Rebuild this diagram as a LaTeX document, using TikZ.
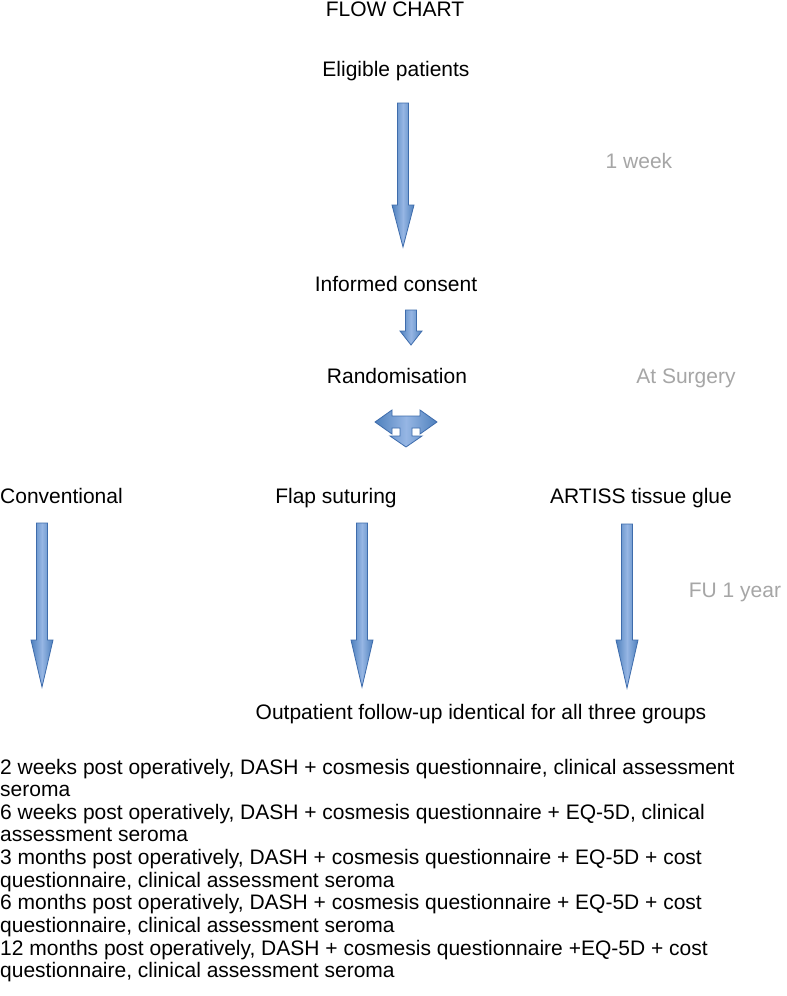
\documentclass[tikz,border=0pt]{standalone}
\usepackage{fontspec}
\setmainfont{Liberation Sans}
\definecolor{arrblue}{RGB}{79,129,189}
\definecolor{arrlight}{RGB}{150,182,228}
\definecolor{arrline}{RGB}{62,108,172}
\definecolor{graytxt}{RGB}{166,166,166}
\tikzset{
  txt/.style={anchor=base, inner sep=0pt, font=\fontsize{21}{22.7}\selectfont},
  gtxt/.style={txt, text=graytxt},
  ltxt/.style={txt, anchor=base west},
  barrow/.style={draw=arrline, line width=0.8pt, line join=miter, left color=arrblue, right color=arrblue, middle color=arrlight, shading angle=90},
}
% #1 centre x, #2 top y, #3 head base y, #4 tip y
\newcommand\blkarrow[4]{%
  \path[barrow] (#1-5.5,#2) -- (#1+5.5,#2) -- (#1+5.5,#3) -- (#1+11,#3) -- (#1,#4) -- (#1-11,#3) -- (#1-5.5,#3) -- cycle;}
\begin{document}
\begin{tikzpicture}[x=1pt,y=-1pt]
\useasboundingbox (0,0) rectangle (787,996);
\fill[white] (0,0) rectangle (787,996);

\node[txt] (title) at (395,16) {FLOW CHART};
\node[txt] (elig) at (396,76) {Eligible patients};
\node[gtxt] (week) at (639,168) {1 week};
\node[txt] (cons) at (396,291) {Informed consent};
\node[txt] (rand) at (397,383) {Randomisation};
\node[gtxt] (surg) at (686,383) {At Surgery};
\node[txt, anchor=base west] (conv) at (0,503) {Conventional};
\node[txt] (flap) at (336,503) {Flap suturing};
\node[txt] (artiss) at (641,503) {ARTISS tissue glue};
\node[gtxt] (fu) at (735,597) {FU 1 year};
\node[txt] (outp) at (481,719) {Outpatient follow-up identical for all three groups};

% block arrows
\blkarrow{403}{103}{205}{247}
\blkarrow{411}{310}{331}{345}
\blkarrow{42}{523}{640}{687}
\blkarrow{362}{523}{640}{687}
\blkarrow{627}{524}{640}{688}

% split arrow
\path[barrow] (375,422) -- (392,410) -- (392,416) -- (420,416) -- (420,410) -- (437,422)
  -- (420,434) -- (420,428) -- (412,428) -- (412,436) -- (422,436) -- (406,447)
  -- (390,436) -- (400,436) -- (400,428) -- (392,428) -- (392,434) -- cycle;

% follow-up text
\node[ltxt] (l1) at (0,774) {2 weeks post operatively, DASH + cosmesis questionnaire, clinical assessment};
\node[ltxt] (l2) at (0,796.65) {seroma};
\node[ltxt] (l3) at (0,819.3) {6 weeks post operatively, DASH + cosmesis questionnaire + EQ-5D, clinical};
\node[ltxt] (l4) at (0,841.95) {assessment seroma};
\node[ltxt] (l5) at (0,864.6) {3 months post operatively, DASH + cosmesis questionnaire + EQ-5D + cost};
\node[ltxt] (l6) at (0,887.25) {questionnaire, clinical assessment seroma};
\node[ltxt] (l7) at (0,909.9) {6 months post operatively, DASH + cosmesis questionnaire + EQ-5D + cost};
\node[ltxt] (l8) at (0,932.55) {questionnaire, clinical assessment seroma};
\node[ltxt] (l9) at (0,955.2) {12 months post operatively, DASH + cosmesis questionnaire +EQ-5D + cost};
\node[ltxt] (l10) at (0,977.85) {questionnaire, clinical assessment seroma};
\end{tikzpicture}
\end{document}
